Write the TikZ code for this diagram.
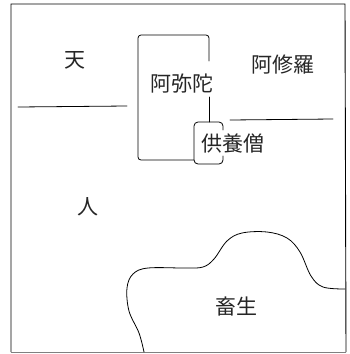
\documentclass[tikz,border=0pt]{standalone}
\usepackage{fontspec}
\setmainfont{Noto Sans CJK JP}
\begin{document}
\begin{tikzpicture}[x=1pt,y=-1pt,
  stroke/.style={line width=0.8pt,line cap=round,line join=round},
  lbl/.style={font=\fontsize{21}{21}\selectfont,inner sep=0pt,text=black!85}]
\useasboundingbox (0,0) rectangle (350,354);
% outer frame
\draw[line width=0.9pt] (11,352) -- (11,4) -- (345,4) -- (346,352);
\draw[line width=0.4pt,gray] (11,352) -- (346,352);
% dividing lines
\coordinate (l1) at (18,107);
\coordinate (l2) at (127,106);
\coordinate (r1) at (230,120);
\coordinate (r2) at (333,119);
\draw[stroke] (l1) -- (l2);
\draw[stroke] (r1) -- (r2);
% labels
\node[lbl] (ten) at (75,60) {天};
\node[lbl] (ashura) at (283,65) {阿修羅};
\node[lbl] (amida) at (182,84) {阿弥陀};
\node[lbl] (kuyo) at (233,144) {供養僧};
\node[lbl] (hito) at (88,207) {人};
\node[lbl] (chiku) at (236,306) {畜生};
% Amida box
\draw[stroke,rounded corners=3pt] (209,61) -- (209,35) -- (138,35) -- (138,160) -- (194,160);
\draw[stroke] (209,97) -- (209,122);
% small box
\draw[stroke,rounded corners=4pt] (223,130) -- (223,122) -- (194,122) -- (194,164) -- (223,164) -- (223,156);
% wavy border of animals
\draw[stroke] plot[smooth,tension=0.6] coordinates {(144,352) (139,333) (129,311) (127,288) (133,274) (148,268) (185,268) (203,267) (214,259) (227,241) (242,233) (267,232) (287,238) (300,252) (311,276) (323,287) (345,289)};
\end{tikzpicture}
\end{document}
